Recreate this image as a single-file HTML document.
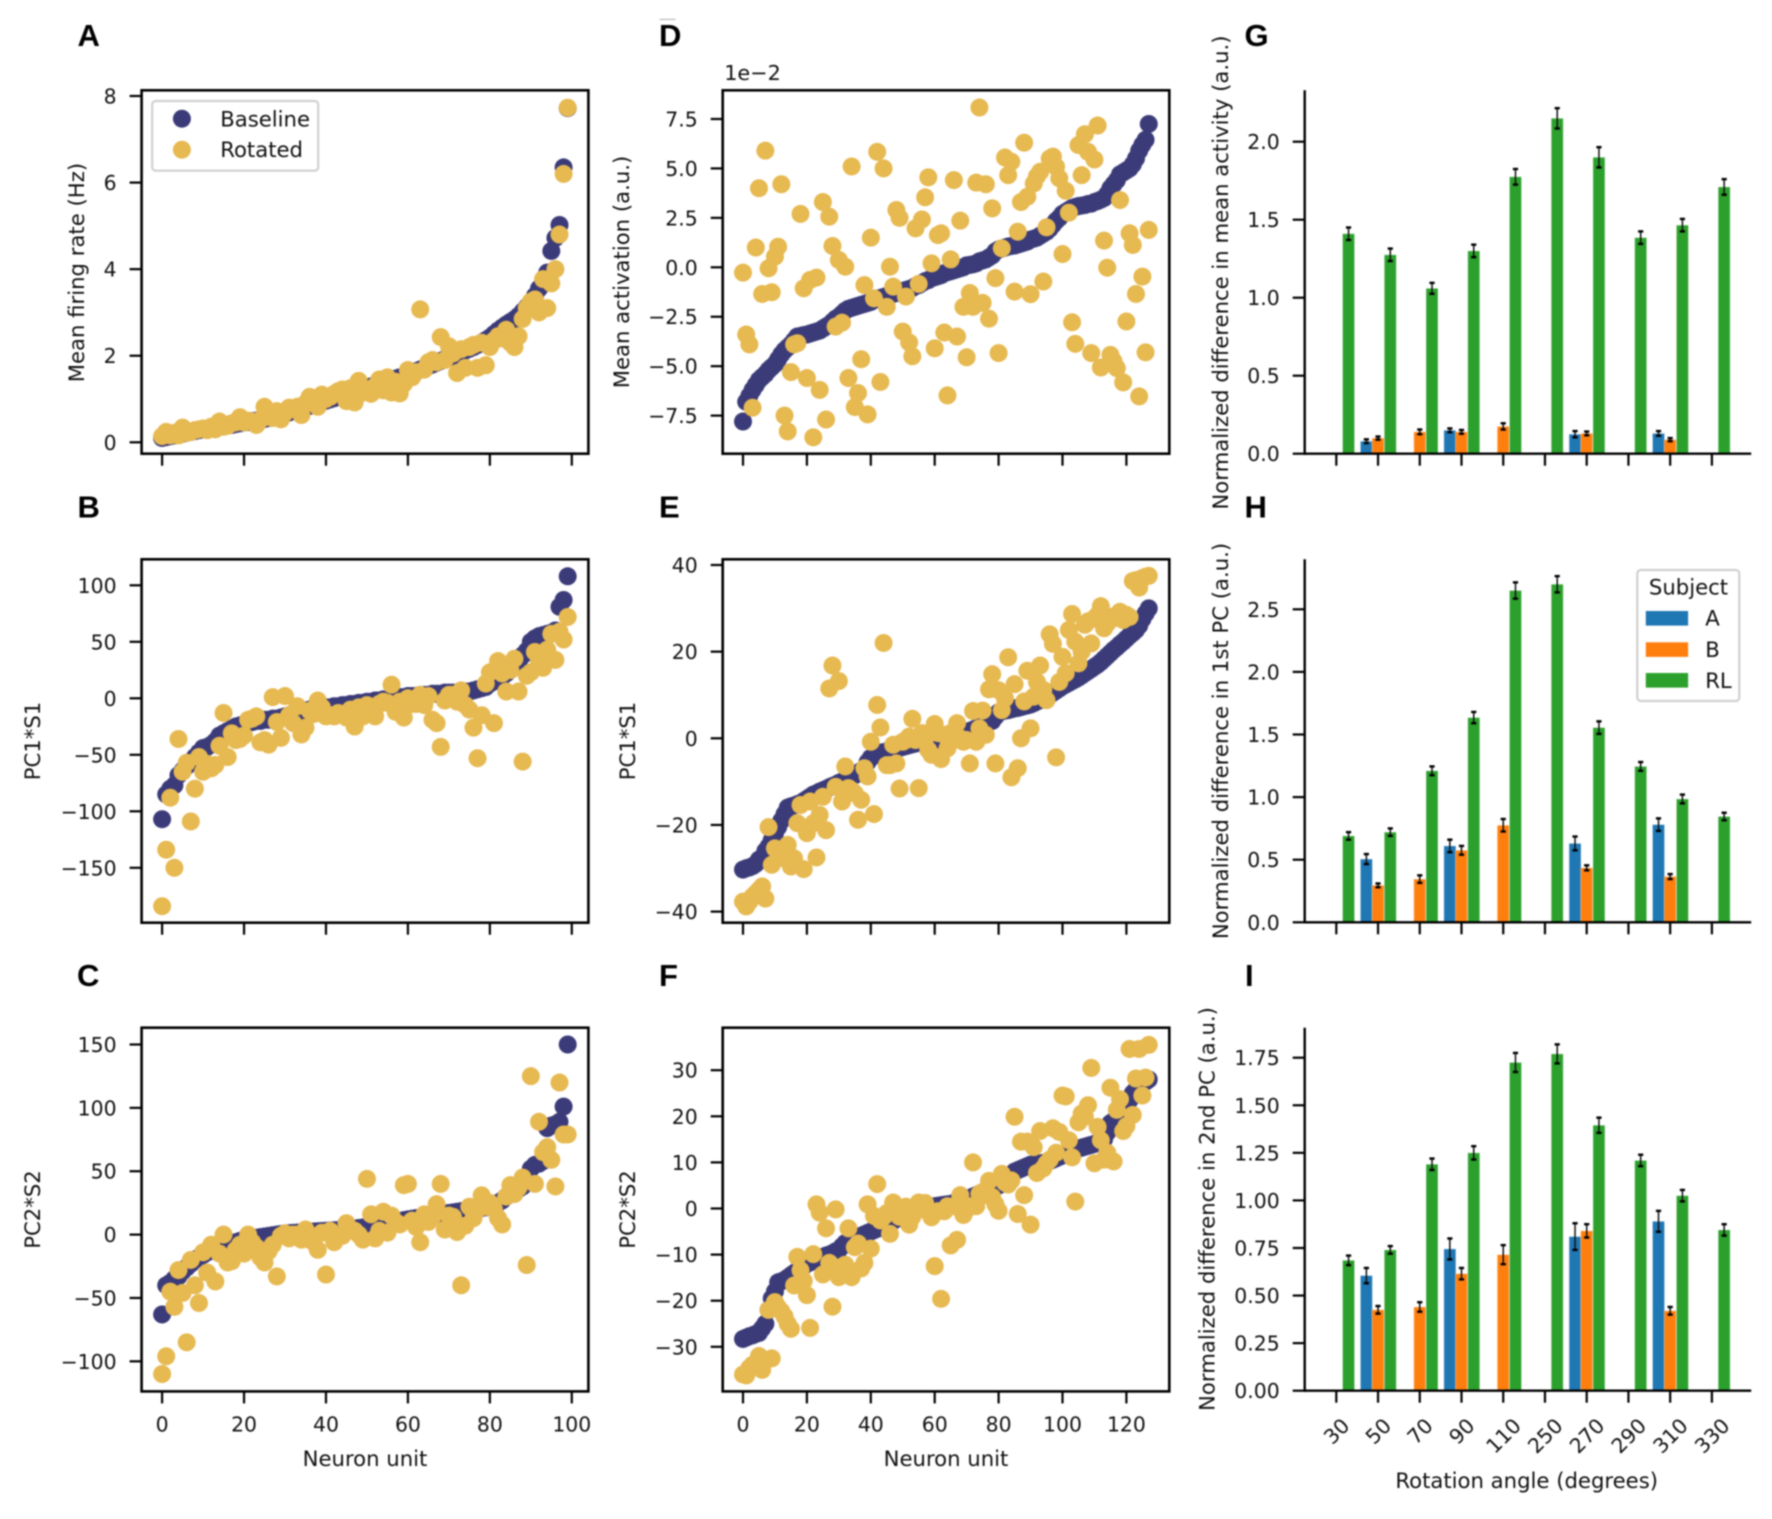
<!DOCTYPE html>
<html>
<head>
<meta charset="utf-8">
<title>Neuron unit panels</title>
<style>
html,body{margin:0;padding:0;background:#fff;}
svg{display:block;filter:blur(0.7px);}
text{font-family:"DejaVu Sans","Liberation Sans",sans-serif;fill:#111;}
.letter{font-family:"Liberation Sans",sans-serif;font-weight:700;font-size:31px;fill:#000;}
</style>
</head>
<body>
<svg id="figure" xmlns="http://www.w3.org/2000/svg" width="1772" height="1519" viewBox="0 0 1772 1519"></svg>
<script>
// ---------- chart data ----------
const unitTicks100 = [0, 20, 40, 60, 80, 100];
const unitTicks128 = [0, 20, 40, 60, 80, 100, 120];
const angleCategories = ['30', '50', '70', '90', '110', '250', '270', '290', '310', '330'];

const ticksA = [0, 2, 4, 6, 8];
const ticksB = [-150, -100, -50, 0, 50, 100];
const ticksC = [-100, -50, 0, 50, 100, 150];
const ticksD = [-7.5, -5, -2.5, 0, 2.5, 5, 7.5];
const ticksE = [-40, -20, 0, 20, 40];
const ticksF = [-30, -20, -10, 0, 10, 20, 30];
const ticksG = [0, 0.5, 1, 1.5, 2];
const ticksH = [0, 0.5, 1, 1.5, 2, 2.5];
const ticksI = [0, 0.25, 0.5, 0.75, 1, 1.25, 1.5, 1.75];

const baselineA = [0.10,0.12,0.14,0.16,0.18,0.20,0.22,0.24,0.26,0.28,0.30,0.31,0.33,0.34,0.36,0.37,0.39,0.40,0.42,0.44,0.46,0.47,0.49,0.50,0.52,0.54,0.56,0.58,0.60,0.63,0.66,0.69,0.72,0.75,0.78,0.81,0.84,0.87,0.90,0.93,0.96,0.99,1.02,1.05,1.08,1.11,1.14,1.17,1.20,1.23,1.26,1.29,1.32,1.35,1.38,1.41,1.44,1.47,1.50,1.53,1.56,1.60,1.64,1.68,1.72,1.76,1.80,1.84,1.88,1.92,1.96,2.0,2.04,2.08,2.12,2.16,2.20,2.25,2.30,2.36,2.42,2.5,2.58,2.65,2.72,2.78,2.84,2.92,3.02,3.12,3.24,3.38,3.55,3.72,3.92,4.42,4.72,5.02,6.35,7.72];
const rotatedA = [0.14,0.24,0.16,0.22,0.16,0.34,0.22,0.24,0.28,0.30,0.32,0.28,0.36,0.30,0.48,0.36,0.38,0.44,0.46,0.58,0.46,0.5,0.48,0.4,0.52,0.82,0.62,0.56,0.72,0.53,0.68,0.8,0.78,0.82,0.63,0.9,1.05,0.98,0.82,1.1,1.0,1.05,1.12,1.18,1.22,0.95,1.25,0.92,1.42,1.15,1.2,1.12,1.3,1.45,1.2,1.5,1.15,1.4,1.13,1.35,1.67,1.5,1.62,3.07,1.68,1.85,1.9,1.85,2.43,1.9,2.22,2.05,1.6,2.15,1.72,2.2,2.25,1.72,2.3,1.78,2.2,2.35,2.45,2.4,2.6,2.3,2.2,2.45,2.85,3.1,3.25,3.3,3.0,3.77,3.1,3.67,4.0,4.8,6.2,7.73];

const baselineB = [-107,-85,-80,-77,-68,-64,-60,-56,-52,-48,-44,-43,-41,-38,-33,-31,-29,-27,-25,-24,-23,-22,-21,-20,-20,-19,-19,-18,-18,-17,-16,-15,-14,-13,-12,-11,-10,-10,-9,-9,-8,-8,-7,-7,-6,-6,-5,-5,-4,-4,-3,-3,-2,-2,-1,-1,0,0,1,1,2,2,2,3,3,3,4,4,4,5,5,5,5,6,6,6,7,8,9,10,13,15,17,19,22,25,28,31,38,42,50,53,55,56,57,58,60,81,87,108];
const rotatedB = [-184,-134,-88,-150,-36,-65,-57,-109,-80,-52,-65,-58,-62,-59,-42,-13,-52,-31,-37,-36,-33,-19,-18,-16,-39,-37,-41,1,-21,-35,2,-15,-22,-7,-32,-26,-11,-14,-2,-8,-16,-15,-16,-13,-14,-17,-10,-25,-8,-16,-6,-14,-16,-5,-3,-4,12,-12,-3,-17,0,-5,-5,3,-6,2,-19,-22,-43,-2,3,3,-3,7,-6,-10,-26,-53,-15,13,23,-22,33,22,6,25,35,6,-56,20,23,41,33,27,43,57,34,59,52,72];

const baselineC = [-63,-40,-38,-35,-33,-29,-26,-23,-20,-18,-16,-14,-12,-11,-10,-9,-8,-7,-6,-5,-4,-3.5,-3,-2.5,-2,-1.5,-1,-0.5,0,0.5,1,1.2,1.4,1.6,1.8,2,2.2,2.4,2.6,2.8,3,3.2,3.4,3.6,3.8,4,4.4,4.8,5.2,5.6,6,6.6,7.2,7.8,8.4,9,9.6,10.2,10.8,11.4,12,12.5,13,13.5,14,14.5,15,15.5,16,16.5,17,17.5,18,18.5,19,19.5,20,20.5,21,21.5,22,23,25,27,30,32,34,36,38,45,52,55,56,58,84,86,87,89,101,150];
const rotatedC = [-110,-96,-45,-57,-28,-46,-85,-20,-40,-54,-14,-30,-8,-37,-15,0,-22,-21,-12,-8,-15,0,-6,-10,-18,-22,-13,-8,-33,-1,1,-3,0,0,-4,4,-4,-6,-12,1.5,-31.5,3,-6,-1,-1,9,4,3,0,-4,44,16,-3,3,18,1.5,15,10,8,39,40,11,6,-6,16,10,14,24,40,4,15,14,2,-40,7,22,13,20,31,22,25,20,13,8,30,39,32,37,45,-24,125,40,89,65,69,59,38,120,79,79];

const baselineD = [-7.8,-6.8,-6.5,-6.2,-5.95,-5.7,-5.55,-5.4,-5.2,-5.05,-4.9,-4.65,-4.4,-4.2,-4.05,-3.9,-3.7,-3.5,-3.47,-3.43,-3.4,-3.35,-3.3,-3.25,-3.2,-3.1,-3.0,-2.9,-2.75,-2.6,-2.5,-2.35,-2.2,-2.1,-2.05,-2.0,-1.95,-1.9,-1.85,-1.8,-1.75,-1.65,-1.6,-1.55,-1.5,-1.45,-1.4,-1.35,-1.3,-1.25,-1.2,-1.15,-1.1,-1.05,-0.95,-0.9,-0.8,-0.7,-0.65,-0.55,-0.5,-0.45,-0.4,-0.3,-0.25,-0.2,-0.15,-0.1,-0.05,0.0,0.1,0.12,0.15,0.2,0.3,0.35,0.4,0.5,0.6,0.8,0.9,0.95,1.0,1.05,1.08,1.1,1.15,1.2,1.25,1.3,1.4,1.45,1.5,1.6,1.7,1.8,1.95,2.15,2.35,2.5,2.7,2.8,2.9,3.0,3.05,3.1,3.12,3.15,3.2,3.22,3.3,3.35,3.42,3.5,3.7,4.0,4.2,4.4,4.7,4.8,4.9,5.0,5.2,5.5,5.9,6.2,6.45,7.25];
const rotatedD = [-0.27,-3.4,-3.9,-7.1,1.0,4.0,-1.35,5.9,-0.05,-1.26,0.54,1.04,4.2,-7.5,-8.3,-5.3,-3.9,-3.84,2.7,-1.06,-5.6,-0.64,-8.6,-0.52,-6.2,3.3,-7.7,2.56,1.08,-3.0,0.37,-2.8,0.03,-5.6,5.1,-7.07,-6.36,-4.65,-0.9,-7.44,1.5,-1.57,5.84,-5.8,5.0,-2,0.03,-0.98,2.9,2.5,-3.25,-1.48,-3.8,-4.5,1.97,-0.84,2.42,3.54,4.55,0.2,-4.1,1.63,1.72,-3.3,-6.48,0.4,4.41,-3.5,2.36,-2.0,-4.55,-1.3,-2,4.28,8.08,-1.8,4.2,-2.6,2.98,-0.55,-4.34,0.96,5.55,4.66,5.34,-1.23,1.8,3.3,6.3,3.57,-1.36,4.24,4.6,4.83,-0.72,2.02,5.5,5.6,5.08,4.5,0.67,3.87,2.76,-2.78,-3.87,6.18,4.66,6.73,5.84,-4.34,5.45,7.17,-5.07,1.35,-0.02,-4.43,-4.76,-5.1,3.4,-5.82,-2.74,1.72,1.13,-1.35,-6.53,-0.47,-4.3,1.89];

const baselineE = [-30.3,-30,-29.8,-29.5,-29,-28,-27.5,-26,-25,-23.5,-22,-20.5,-19,-17.5,-16,-15.7,-15.5,-15.2,-15,-14.5,-14,-13.5,-13,-12.7,-12.3,-12,-11.7,-11.3,-11,-10.7,-10.3,-10,-9.6,-9.2,-8.8,-8.5,-8,-7.5,-7,-5.5,-4.5,-4,-3.5,-3.3,-3.2,-3,-2.8,-2.6,-2.4,-2.2,-2,-1.8,-1.6,-1.4,-1.2,-1,-0.9,-0.8,-0.7,-0.6,-0.5,-0.3,-0.1,0.1,0.3,0.5,0.7,0.9,1.1,1.3,1.5,1.7,2,2.3,2.7,3,3.3,3.7,4,5,6,6.2,6.4,6.5,6.7,6.9,7,7.2,7.4,7.6,7.8,8.1,8.5,8.8,9.1,9.5,10,10.5,11,11.5,12,12.4,12.8,13.2,13.6,14,14.5,15,15.5,16,16.5,17,17.6,18.3,19,19.7,20.4,21,21.7,22.3,23,23.7,24.3,25,26,27.5,28.8,30];
const rotatedE = [-37.7,-38.8,-37.7,-36.5,-35.8,-35,-34.2,-37,-20.5,-29.2,-25.4,-27.7,-25.8,-26.5,-24.6,-29.6,-27.7,-19.6,-15.4,-30.2,-21.9,-14.6,-19.6,-27.5,-17.7,-13.5,-21.2,11.5,16.8,-11.2,13.2,-14.6,-6.5,-11.5,-12,-12.7,-18.8,-14.2,-6.9,-8.8,-0.8,-17.5,7.7,2.5,22,-6.2,-6.2,-1.5,-5.8,-11.6,-0.8,-0.4,0.4,4.5,-0.4,-11.5,1.2,0,-2.7,-3.8,3.3,1.2,-4.8,0.8,-2.3,1.2,-0.4,3.5,0,-0.8,-0.4,-5.8,6.3,-0.8,2.3,6.4,0.8,11.3,14.8,-5.8,11.1,6.5,9.2,18.7,-9,12.5,-6.9,0,8.5,15.6,2.3,9.6,13,16.8,11.2,8.8,24,21.8,-4.4,13,18.8,15,25,28.7,22.3,17.3,20,26.2,27,21.9,27.7,28.5,30.5,25.4,26.5,28,27.7,28.5,29.2,27.3,28.5,28,36.3,36.5,34.8,37,37.3,37.5];

const baselineF = [-28.3,-28,-27.7,-27.5,-27.2,-27,-26,-25,-22,-19.5,-18,-16,-15.8,-15.5,-15,-14.5,-14,-13.5,-13,-12.5,-12,-11.7,-11.4,-11,-10.8,-10.5,-10.2,-10,-9.7,-9.3,-9,-8.2,-7.5,-7.1,-6.8,-6.5,-6.2,-5.9,-5.6,-5.3,-5,-4.7,-4.4,-4.1,-3.8,-3.5,-3.1,-2.7,-2.3,-1.9,-1.5,-1.2,-0.9,-0.6,-0.3,0,0.1,0.2,0.3,0.4,0.5,0.6,0.7,0.8,0.9,1,1.2,1.4,1.6,1.8,2,2.3,2.6,2.9,3.2,3.5,3.8,4.1,4.4,4.7,5,5.6,6.2,6.8,7.4,8,8.3,8.6,8.9,9.2,9.5,9.6,9.7,9.8,9.9,10,10.3,10.6,10.9,11.2,11.5,11.8,12.1,12.4,12.7,13,13.2,13.4,13.6,13.8,14,14.3,14.6,15,16.5,18.5,19,19.5,20,21,22,23.5,25,25.8,26.2,27,27.5,28];
const rotatedF = [-36,-36.2,-34.6,-33.9,-33.5,-32,-35,-33,-22,-32.5,-20.3,-21.5,-22.3,-23.4,-25,-26.1,-16.7,-10.5,-13.4,-15.7,-18.8,-25.9,-9.9,0.9,-0.9,-14.3,-4.3,-11.8,-21.3,-0.2,-14.9,-12.6,-12.2,-4.3,-14.9,-8.4,-7.6,-13,-11.8,0.9,-8.7,-1.6,5.3,-2.6,-1.8,-1,-5.5,1.3,0.5,-1.8,-0.2,0.4,-3.5,-1.8,-0.2,1.3,-0.2,1.2,-0.2,-1.9,-12.5,-0.6,-19.6,-0.6,0.5,-8,0.5,-6.8,2.9,-1.4,-0.2,0.5,10,0.5,3.2,3.6,2.9,6,2.5,0.9,-0.5,7.5,5.6,5.2,6.1,19.9,-1.2,14.5,2.9,14.5,-3.5,13.3,7.7,16.8,8.7,9.8,10.6,17.4,12.1,16.6,24.5,24.3,14.8,11.1,1.5,18.7,20.6,19.9,22.4,30.5,9.8,17.7,14.8,10.6,12.1,26.2,10.2,21.4,23.7,16.8,17.9,34.6,20.3,28.2,34.6,24.5,28.4,35.5];

const subjectAG = [null,0.08,null,0.15,null,null,0.125,null,0.13,null];
const subjectBG = [null,0.10,0.14,0.14,0.175,null,0.13,null,0.09,null];
const subjectRLG = [1.41,1.275,1.06,1.30,1.775,2.15,1.90,1.385,1.465,1.71];
const errAG = [0,0.012,0,0.012,0,0,0.02,0,0.015,0];
const errBG = [0,0.01,0.015,0.012,0.02,0,0.012,0,0.01,0];
const errRLG = [0.04,0.04,0.035,0.04,0.05,0.065,0.065,0.04,0.04,0.05];

const subjectAH = [null,0.505,null,0.61,null,null,0.63,null,0.78,null];
const subjectBH = [null,0.295,0.345,0.575,0.775,null,0.435,null,0.365,null];
const subjectRLH = [0.69,0.72,1.21,1.635,2.65,2.70,1.555,1.245,0.985,0.845];
const errAH = [0,0.04,0,0.05,0,0,0.055,0,0.05,0];
const errBH = [0,0.015,0.03,0.035,0.05,0,0.02,0,0.02,0];
const errRLH = [0.03,0.03,0.035,0.045,0.065,0.065,0.05,0.035,0.035,0.03];

const subjectAI = [null,0.605,null,0.745,null,null,0.81,null,0.89,null];
const subjectBI = [null,0.425,0.44,0.615,0.715,null,0.84,null,0.42,null];
const subjectRLI = [0.685,0.74,1.19,1.25,1.725,1.77,1.395,1.21,1.025,0.845];
const errAI = [0,0.04,0,0.055,0,0,0.07,0,0.055,0];
const errBI = [0,0.02,0.025,0.03,0.05,0,0.035,0,0.02,0];
const errRLI = [0.025,0.02,0.03,0.035,0.05,0.05,0.04,0.03,0.03,0.03];

// ---------- drawing ----------
const NAVY = '#3b3b79', GOLD = '#e6b951';
const BLUE = '#1f77b4', ORANGE = '#ff7f0e', GREEN = '#2ca02c';
const SVGNS = 'http://www.w3.org/2000/svg';
const figure = document.getElementById('figure');

function make(parent, tag, attrs) {
  const el = document.createElementNS(SVGNS, tag);
  for (const k in attrs) { el.setAttribute(k, attrs[k]); }
  parent.appendChild(el);
  return el;
}
function group(parent, name) {
  const el = make(parent, 'g', {});
  
  
  return el;
}
function label(parent, name, str, x, y, anchor, size, rotate, cls) {
  const attrs = { x: x, y: y, 'text-anchor': anchor, 'font-size': size };
  if (rotate) { attrs.transform = 'rotate(' + rotate + ' ' + x + ' ' + y + ')'; }
  if (cls) { attrs['class'] = cls; }
  const el = make(parent, 'text', attrs);
  el.textContent = str;
  
  
  return el;
}
function segment(parent, name, x1, y1, x2, y2, width, color) {
  const el = make(parent, 'line', { x1: x1, y1: y1, x2: x2, y2: y2, stroke: color || '#000', 'stroke-width': width });
  
  
  return el;
}
function linear(d0, r0, d1, r1) {
  return function (v) { return r0 + (v - d0) * (r1 - r0) / (d1 - d0); };
}
function fmt(v, dec) {
  const s = Math.abs(v).toFixed(dec);
  return (v < 0 ? '\u2212' : '') + s;
}
const FS = 20.4, FST = 21.2, TICK = 12, DOT = 9;

function yAxis(g, ticks, y, left, dec) {
  ticks.forEach(function (t) {
    segment(g, 'y-tick', left - TICK, y(t), left, y(t), 2.2);
    label(g, 'y-tick-label', fmt(t, dec), left - 25, y(t) + 7.5, 'end', FS);
  });
}
function unitPanel(p) {
  const g = group(figure, p.name);
  const x = linear(0, p.x0, p.t1, p.x1);
  const y = linear(p.d0, p.r0, p.d1, p.r1);
  const navy = group(g, 'baseline-series');
  p.baseline.forEach(function (v, i) {
    const c = make(navy, 'circle', { cx: x(i), cy: y(v), r: DOT, fill: NAVY });
    
    
  });
  const gold = group(g, 'rotated-series');
  p.rotated.forEach(function (v, i) {
    const c = make(gold, 'circle', { cx: x(i), cy: y(v), r: DOT, fill: GOLD });
    
    
  });
  const box = make(g, 'rect', { x: p.left, y: p.top, width: p.right - p.left, height: p.bottom - p.top, fill: 'none', stroke: '#000', 'stroke-width': 2.6 });
  
  
  yAxis(g, p.yticks, y, p.left, p.dec);
  p.xticks.forEach(function (t) {
    segment(g, 'x-tick', x(t), p.bottom, x(t), p.bottom + TICK, 2.2);
    if (p.showX) { label(g, 'x-tick-label', String(t), x(t), 1431.6, 'middle', FS); }
  });
  label(g, 'y-axis-title', p.ylabel, p.ylx, p.yly, 'middle', FST, -90);
  if (p.showX) { label(g, 'x-axis-title', 'Neuron unit', p.xlc, 1466, 'middle', FST); }
}
function barPanel(p) {
  const g = group(figure, p.name);
  const left = 1304.7, right = 1751.2;
  const x = linear(0, 1336.3, 9, 1711.9);
  const y = linear(0, p.zero, p.d1, p.r1);
  const W = 11.95;
  const series = [
    { vals: p.a, errs: p.ea, off: -1, col: BLUE, n: 'bar-subject-a' },
    { vals: p.b, errs: p.eb, off: 0, col: ORANGE, n: 'bar-subject-b' },
    { vals: p.rl, errs: p.erl, off: 1, col: GREEN, n: 'bar-subject-rl' }
  ];
  series.forEach(function (s) {
    s.vals.forEach(function (v, i) {
      if (v === null) { return; }
      const cx = x(i) + s.off * W + (s.off ? 0.3 : 0);
      const r = make(g, 'rect', { x: cx - W / 2, y: y(v), width: W, height: y(0) - y(v), fill: s.col, stroke: 'rgba(255,255,255,0.35)', 'stroke-width': 0.9 });
      
      
    });
  });
  series.forEach(function (s) {
    s.vals.forEach(function (v, i) {
      if (v === null) { return; }
      const cx = x(i) + s.off * W + (s.off ? 0.3 : 0);
      const e = s.errs[i];
      segment(g, 'error-bar', cx, y(v + e), cx, y(v - e), 1.5, '#111');
      segment(g, 'error-cap', cx - 2.6, y(v + e), cx + 2.6, y(v + e), 2.4);
      segment(g, 'error-cap', cx - 2.6, y(v - e), cx + 2.6, y(v - e), 2.4);
    });
  });
  segment(g, 'y-axis-spine', left, p.top, left, y(0) + 1.2, 2.4);
  segment(g, 'x-axis-spine', left - 1.2, y(0), right, y(0), 2.4);
  yAxis(g, p.yticks, y, left, p.dec);
  angleCategories.forEach(function (c, i) {
    segment(g, 'x-tick', x(i), y(0), x(i), y(0) + TICK, 2.2);
    if (p.showX) {
      const w = c.length * 12.97;
      const cy = 1416.5 + (w + 15) * 0.354;
      label(g, 'x-tick-label', c, x(i), cy + 7.5, 'middle', FS).setAttribute('transform', 'rotate(-45 ' + x(i) + ' ' + cy + ')');
    }
  });
  label(g, 'y-axis-title', p.ylabel, p.ylx, p.yly, 'middle', FST, -90);
  if (p.showX) { label(g, 'x-axis-title', 'Rotation angle (degrees)', 1526.7, 1488, 'middle', FST); }
}

const col1 = { left: 141.6, right: 588.4, x0: 162.1, t1: 100, x1: 571.8 };
const col2 = { left: 722.7, right: 1169.3, x0: 743, t1: 120, x1: 1126.4 };

unitPanel(Object.assign({}, col1, { name: 'panel-a', top: 90.3, bottom: 453.7, baseline: baselineA, rotated: rotatedA, yticks: ticksA, dec: 0, d0: 0, r0: 442.3, d1: 8, r1: 96, xticks: unitTicks100, ylabel: 'Mean firing rate (Hz)', ylx: 84, yly: 272.6 }));
unitPanel(Object.assign({}, col1, { name: 'panel-b', top: 559.3, bottom: 922.7, baseline: baselineB, rotated: rotatedB, yticks: ticksB, dec: 0, d0: 0, r0: 698.3, d1: 100, r1: 585.3, xticks: unitTicks100, ylabel: 'PC1*S1', ylx: 40, yly: 741 }));
unitPanel(Object.assign({}, col1, { name: 'panel-c', top: 1027.7, bottom: 1391.4, baseline: baselineC, rotated: rotatedC, yticks: ticksC, dec: 0, d0: 0, r0: 1234.6, d1: 150, r1: 1044.5, xticks: unitTicks100, ylabel: 'PC2*S2', ylx: 40, yly: 1209.5, showX: true, xlc: 365 }));
unitPanel(Object.assign({}, col2, { name: 'panel-d', top: 90.3, bottom: 453.7, baseline: baselineD, rotated: rotatedD, yticks: ticksD, dec: 1, d0: 0, r0: 267.3, d1: 7.5, r1: 119, xticks: unitTicks128, ylabel: 'Mean activation (a.u.)', ylx: 629, yly: 272 }));
unitPanel(Object.assign({}, col2, { name: 'panel-e', top: 559.3, bottom: 922.7, baseline: baselineE, rotated: rotatedE, yticks: ticksE, dec: 0, d0: 0, r0: 738.3, d1: 40, r1: 565, xticks: unitTicks128, ylabel: 'PC1*S1', ylx: 635, yly: 741 }));
unitPanel(Object.assign({}, col2, { name: 'panel-f', top: 1027.7, bottom: 1391.4, baseline: baselineF, rotated: rotatedF, yticks: ticksF, dec: 0, d0: 0, r0: 1208.5, d1: 30, r1: 1070.2, xticks: unitTicks128, ylabel: 'PC2*S2', ylx: 635, yly: 1209.5, showX: true, xlc: 946 }));

barPanel({ name: 'panel-g', top: 90.3, zero: 453.7, d1: 2, r1: 141.7, a: subjectAG, b: subjectBG, rl: subjectRLG, ea: errAG, eb: errBG, erl: errRLG, yticks: ticksG, dec: 1, ylabel: 'Normalized difference in mean activity (a.u.)', ylx: 1228, yly: 272.5 });
barPanel({ name: 'panel-h', top: 559.3, zero: 922.3, d1: 2.5, r1: 609.3, a: subjectAH, b: subjectBH, rl: subjectRLH, ea: errAH, eb: errBH, erl: errRLH, yticks: ticksH, dec: 1, ylabel: 'Normalized difference in 1st PC (a.u.)', ylx: 1228, yly: 741 });
barPanel({ name: 'panel-i', top: 1027.7, zero: 1390.7, d1: 1.75, r1: 1057.7, a: subjectAI, b: subjectBI, rl: subjectRLI, ea: errAI, eb: errBI, erl: errRLI, yticks: ticksI, dec: 2, ylabel: 'Normalized difference in 2nd PC (a.u.)', ylx: 1214.5, yly: 1209, showX: true });

label(figure, 'offset-label', '1e\u22122', 724.2, 80, 'start', 20.8);

const lettersG = group(figure, 'panel-letters');
[['A', 77.5, 46], ['B', 77.5, 517.5], ['C', 77, 986], ['D', 659, 46], ['E', 659, 517.5], ['F', 659, 986], ['G', 1244.5, 46], ['H', 1244.5, 517.5], ['I', 1245, 986]].forEach(function (l) {
  label(lettersG, 'panel-letter', l[0], l[1], l[2], 'start', 31, 0, 'letter');
});
segment(figure, 'panel-d-letter-mark', 659.5, 19.4, 675.5, 19.4, 1, '#aaa');

// legend A
const legA = group(figure, 'legend-condition');
const boxA = make(legA, 'rect', { x: 152.2, y: 101, width: 166, height: 69.7, rx: 3.5, fill: 'rgba(255,255,255,0.85)', stroke: '#d0d0d0', 'stroke-width': 2.2 });


const mkA = make(legA, 'circle', { cx: 181.9, cy: 118.7, r: DOT, fill: NAVY });


const mkB = make(legA, 'circle', { cx: 181.9, cy: 149.7, r: DOT, fill: GOLD });


label(legA, 'legend-label-baseline', 'Baseline', 220.2, 126.4, 'start', FST);
label(legA, 'legend-label-rotated', 'Rotated', 220.2, 157.2, 'start', FST);

// legend H
const legH = group(figure, 'legend-subject');
const boxH = make(legH, 'rect', { x: 1637.3, y: 570, width: 102, height: 131, rx: 3.5, fill: 'rgba(255,255,255,0.85)', stroke: '#d0d0d0', 'stroke-width': 2.2 });


label(legH, 'legend-title', 'Subject', 1688.5, 594.5, 'middle', FST);
[['A', BLUE, 611, 625.7], ['B', ORANGE, 642.3, 657], ['RL', GREEN, 673, 688]].forEach(function (e) {
  const sw = make(legH, 'rect', { x: 1645.8, y: e[2], width: 42.3, height: 14.6, fill: e[1] });
  
  
  label(legH, 'legend-label', e[0], 1705.2, e[3], 'start', FST);
});
</script>
</body>
</html>
